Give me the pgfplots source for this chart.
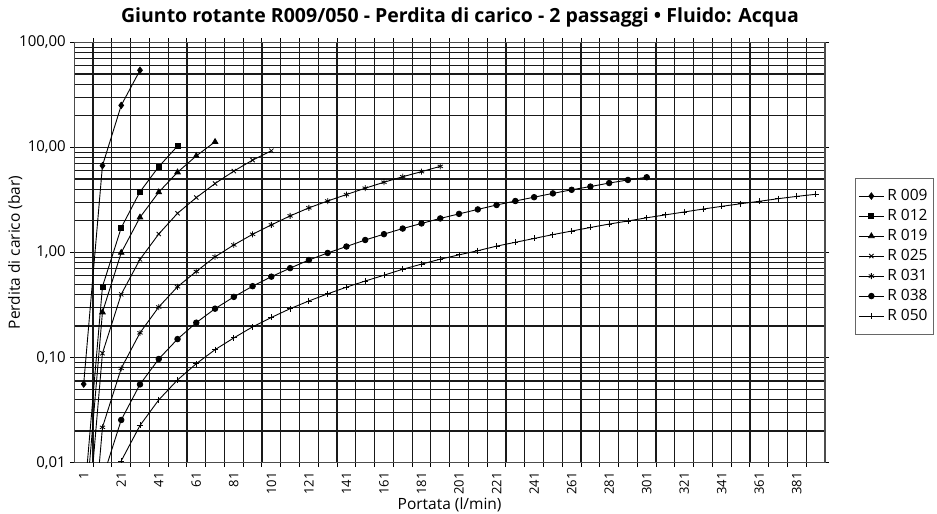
\documentclass[border=0pt]{standalone}
\usepackage{pgfplots}
\pgfplotsset{compat=1.18}
\usepackage{fontspec}
\setmainfont{Open Sans}
\begin{document}
\begin{tikzpicture}[x=1pt,y=1pt]
\useasboundingbox (0,0) rectangle (937,514);
\node[font=\fontsize{19.5}{22}\selectfont\bfseries] at (460,497) {Giunto rotante R009/050 - Perdita di carico - 2 passaggi • Fluido: Acqua};
\begin{axis}[
  at={(74.3pt,51.3pt)}, anchor=south west,
  scale only axis, width=750.7pt, height=420.4pt,
  ymode=log, ymin=0.01, ymax=100, xmin=-4, xmax=396,
  ytick={0.01,0.1,1,10,100},
  yticklabels={{0,01},{0,10},{1,00},{10,00},{100,00}},
  xtick={1,21,...,381},
  xticklabels={1,21,41,61,81,101,121,141,161,181,201,221,241,261,281,301,321,341,361,381},
  minor xtick={6,16,...,386},
  xminorgrids=true, xmajorgrids=false, ymajorgrids=true, yminorgrids=true,
  major grid style={black!90, line width=1.2pt},
  minor grid style={black!90, line width=1.2pt},
  minor y tick style={draw=none},
  major x tick style={draw=none},
  tick align=outside, major tick length=4pt, minor tick length=4pt,
  tick style={black, line width=1pt},
  axis line style={black!70, line width=1.1pt},
  yticklabel style={font=\fontsize{15}{18}\selectfont, xshift=-1pt},
  xticklabel style={font=\fontsize{13}{15}\selectfont, rotate=90, anchor=east, xshift=-2pt},
  xlabel={Portata (l/min)},
  ylabel={Perdita di carico (bar)},
  label style={font=\fontsize{15.5}{18}\selectfont},
  xlabel style={yshift=4pt},
  ylabel style={yshift=-10pt},
  clip marker paths=true,
  every axis plot/.append style={black, line width=0.9pt, mark options={solid, line width=0.8pt}},
  legend cell align=left,
  legend style={at={(1.040,0.678)}, anchor=north west, draw=black!60, line width=0.8pt, fill=white,
    font=\fontsize{15.5}{18}\selectfont, inner xsep=3pt, inner ysep=8pt,
    nodes={inner sep=3pt, text height=11pt, text depth=3pt}, row sep=0pt},
  legend image code/.code={\draw[mark repeat=2,mark phase=2,#1] plot coordinates {(0pt,0pt) (12.5pt,0pt) (25pt,0pt)};},
]
\addplot[mark=diamond*, mark size=3.2pt] coordinates {(1,0.056) (11,6.7) (21,25.1) (31,54.2)};
\addlegendentry{R 009}
\addplot[mark=square*, mark size=2.5pt] coordinates {(1,0.0039) (11,0.473) (21,1.72) (31,3.78) (41,6.55) (51,10.3)};
\addlegendentry{R 012}
\addplot[mark=triangle*, mark size=3.2pt] coordinates {(1,0.0022) (11,0.27) (21,0.995) (31,2.16) (41,3.75) (51,5.8) (61,8.3) (71,11.3)};
\addlegendentry{R 019}
\addplot[mark=x, mark size=3pt] coordinates {(1,0.0009) (11,0.11) (21,0.4) (31,0.86) (41,1.5) (51,2.36) (61,3.33) (71,4.53) (81,5.95) (91,7.57) (101,9.3)};
\addlegendentry{R 025}
\addplot[mark=asterisk, mark size=3pt] coordinates {(1,0.00018) (11,0.0217) (21,0.079) (31,0.172) (41,0.303) (51,0.472) (61,0.66) (71,0.91) (81,1.18) (91,1.49) (101,1.83) (111,2.23) (121,2.66) (131,3.09) (141,3.56) (151,4.09) (161,4.66) (171,5.26) (181,5.88) (191,6.6)};
\addlegendentry{R 031}
\addplot[mark=*, mark size=2.8pt] coordinates {(11,0.007) (21,0.0255) (31,0.0556) (41,0.097) (51,0.150) (61,0.215) (71,0.292) (81,0.378) (91,0.478) (101,0.589) (111,0.71) (121,0.848) (131,0.99) (141,1.14) (151,1.315) (161,1.495) (171,1.69) (181,1.89) (191,2.11) (201,2.33) (211,2.57) (221,2.83) (231,3.09) (241,3.36) (251,3.65) (261,3.95) (271,4.24) (281,4.58) (291,4.9) (301,5.2)};
\addlegendentry{R 038}
\addplot[mark=+, mark size=3pt] coordinates {(21,0.0104) (31,0.0226) (41,0.0396) (51,0.0613) (61,0.0875) (71,0.119) (81,0.154) (91,0.196) (101,0.241) (111,0.292) (121,0.346) (131,0.404) (141,0.468) (151,0.535) (161,0.608) (171,0.693) (181,0.775) (191,0.864) (201,0.95) (211,1.04) (221,1.15) (231,1.25) (241,1.36) (251,1.48) (261,1.6) (271,1.73) (281,1.865) (291,1.995) (301,2.14) (311,2.28) (321,2.43) (331,2.59) (341,2.75) (351,2.91) (361,3.07) (371,3.25) (381,3.42) (391,3.58)};
\addlegendentry{R 050}
\end{axis}
\end{tikzpicture}
\end{document}
